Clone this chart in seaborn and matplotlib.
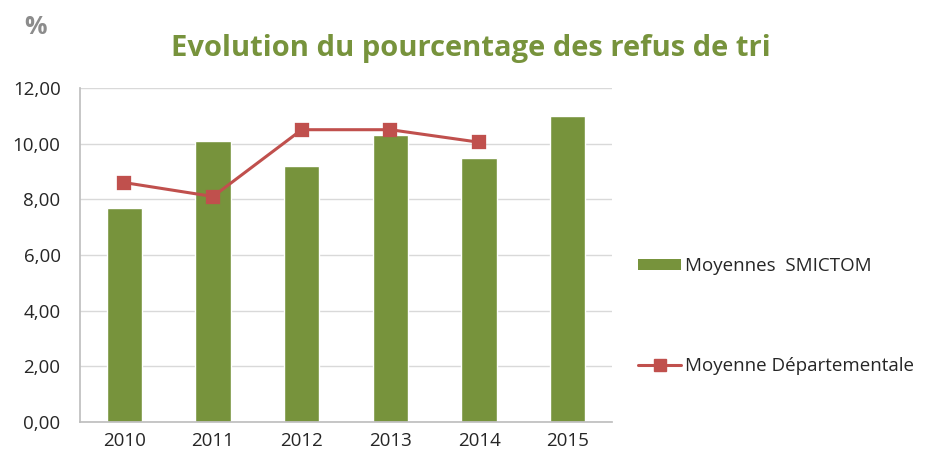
import pandas as pd
import numpy as np
import seaborn as sns
import matplotlib.pyplot as plt
from matplotlib.patches import Patch
from matplotlib.lines import Line2D

# données
annees = ['2010', '2011', '2012', '2013', '2014', '2015']
smictom = [7.7, 10.1, 9.2, 10.3, 9.5, 11.0]
departement = [8.6, 8.1, 10.5, 10.5, 10.05, np.nan]

vert = '#77933C'
rouge = '#C0504D'

sns.set_theme(style='white')
plt.rcParams['font.family'] = ['Open Sans', 'DejaVu Sans']

df = pd.DataFrame({'annee': annees, 'smictom': smictom, 'dep': departement})

fig = plt.figure(figsize=(9.26, 4.51), dpi=100)
ax = fig.add_axes([0.0864, 0.0643, 0.5746, 0.7407])

sns.barplot(data=df, x='annee', y='smictom', order=annees, color=vert,
            width=0.4, saturation=1, ax=ax)
sns.pointplot(data=df, x='annee', y='dep', order=annees, color=rouge,
              markers='s', markersize=9, linewidth=2.2, ax=ax)

ax.set_ylim(0, 12)
ax.set_yticks(np.arange(0, 12.1, 2))
ax.set_yticklabels([f'{v:.2f}'.replace('.', ',') for v in np.arange(0, 12.1, 2)])
ax.set_xlim(-0.5, 5.5)
ax.set_xlabel('')
ax.set_ylabel('')
ax.yaxis.grid(True, color='#D9D9D9', linewidth=1)
ax.set_axisbelow(True)
for s in ['top', 'right']:
    ax.spines[s].set_visible(False)
ax.spines['left'].set_color('#BFBFBF')
ax.spines['bottom'].set_color('#BFBFBF')
ax.tick_params(axis='both', labelsize=13.5, colors='#262626', length=0)
ax.tick_params(axis='y', pad=14)
ax.tick_params(axis='x', pad=7)

fig.text(0.508, 0.893, 'Evolution du pourcentage des refus de tri', ha='center', va='center',
         fontsize=21, fontweight='bold', color=vert)
fig.text(0.038, 0.94, '%', ha='center', va='center', fontsize=18,
         fontweight='bold', color='#8C8C8C')

h1 = Patch(facecolor=vert, edgecolor='none')
h2 = Line2D([0], [0], color=rouge, linewidth=2.2, marker='s', markersize=9)
fig.legend([h1], ['Moyennes  SMICTOM'], loc='center left', bbox_to_anchor=(0.671, 0.41),
           frameon=False, fontsize=13.5, handlelength=2.3, handleheight=0.6, handletextpad=0.2)
fig.legend([h2], ['Moyenne Départementale'], loc='center left', bbox_to_anchor=(0.671, 0.188),
           frameon=False, fontsize=13.5, handlelength=2.3, handletextpad=0.2)

fig.savefig('out.png', dpi=100)
